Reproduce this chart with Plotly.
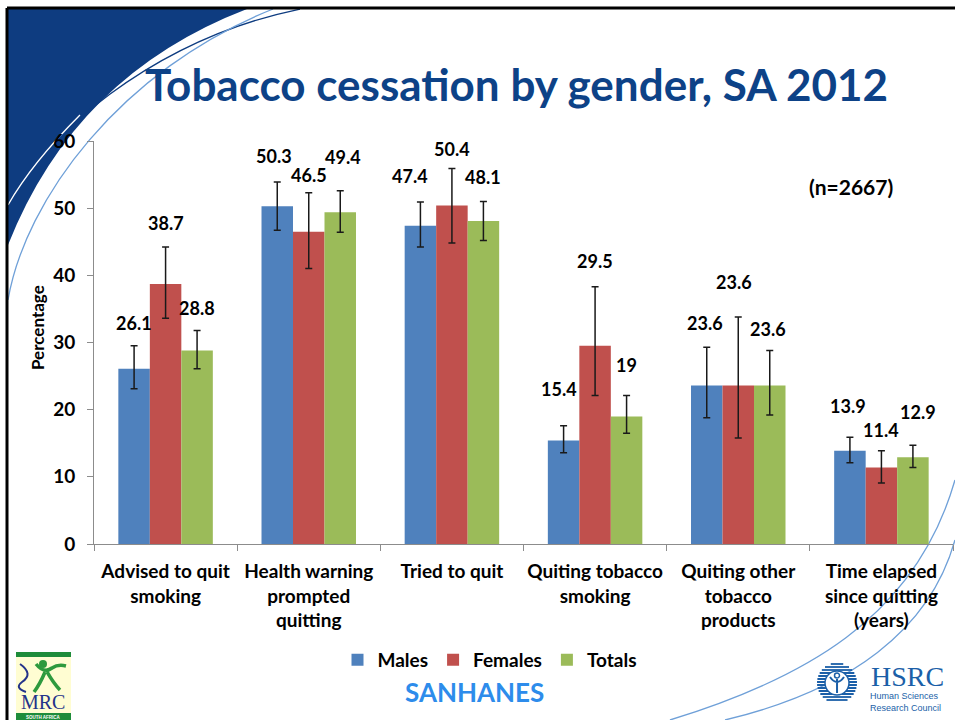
import math
import plotly.graph_objects as go

# categories and values
categories = ["Advised to quit<br>smoking", "Health warning<br>prompted<br>quitting",
              "Tried to quit", "Quiting tobacco<br>smoking",
              "Quiting other<br>tobacco<br>products", "Time elapsed<br>since quitting<br>(years)"]
males = [26.1, 50.3, 47.4, 15.4, 23.6, 13.9]
females = [38.7, 46.5, 50.4, 29.5, 23.6, 11.4]
totals = [28.8, 49.4, 48.1, 19.0, 23.6, 12.9]

# 95% CI limits (estimated from the error bars)
males_lo = [23.1, 46.7, 44.2, 13.6, 18.8, 12.1]
males_hi = [29.5, 53.9, 50.9, 17.6, 29.3, 15.9]
females_lo = [33.6, 41.0, 44.8, 22.1, 15.8, 9.1]
females_hi = [44.2, 52.3, 55.9, 38.3, 33.8, 13.9]
totals_lo = [26.1, 46.4, 45.2, 16.5, 19.2, 11.4]
totals_hi = [31.8, 52.6, 51.0, 22.1, 28.8, 14.7]

# layout helpers: plot area is x 94..953 px, y 141..544 px
L, R, T, B = 94, 953, 141, 544
def px(x):
    return (x - L) / (R - L)
def py(y):
    return (B - y) / (B - T)
def path(pts):
    # pts: list of ("M"/"L"/"C"/"Q", coords...) in pixels
    out = []
    for p in pts:
        s = p[0]
        for i in range(1, len(p), 2):
            s += " %.4f,%.4f" % (px(p[i]), py(p[i + 1]))
        out.append(s)
    return " ".join(out)
def note(text, x, y, size, color="black", family=None, **kw):
    return dict(text=text, xref="paper", yref="paper", x=px(x), y=py(y), showarrow=False,
                xanchor=kw.pop("xanchor", "center"), yanchor="middle",
                font=dict(family=family or FONT, size=size, color=color), **kw)
def pshape(pts, color, width, close=False, fill=None):
    d = dict(type="path", xref="paper", yref="paper", layer="below",
             path=path(pts) + (" Z" if close else ""),
             line=dict(color=color, width=width))
    if fill:
        d["fillcolor"] = fill
    return d

FONT = "Lato"
series = [("Males", males, males_lo, males_hi, "#4F81BD"),
          ("Females", females, females_lo, females_hi, "#C0504D"),
          ("Totals", totals, totals_lo, totals_hi, "#9BBB59")]

fig = go.Figure()
for name, vals, lo, hi, col in series:
    fig.add_trace(go.Bar(
        x=categories, y=vals, name="<b>%s</b>" % name, marker=dict(color=col, line=dict(width=0)),
        error_y=dict(type="data", symmetric=False,
                     array=[h - v for h, v in zip(hi, vals)],
                     arrayminus=[v - l for v, l in zip(vals, lo)],
                     color="#1a1a1a", thickness=1.5, width=3.5)))

# data labels above the error bars
label_lift = [[23, 26, 26, 37, 24, 31], [24, 18, 20, 26, 35, 21], [22, 34, 24, 31, 22, 33]]
label_nudge = [[0, -3, -10, -5, -2, -2], [0, 0, 0, 0, -4, 0], [0, 3, 0, 0, -2, 5]]
annotations = []
for k, (name, vals, lo, hi, col) in enumerate(series):
    for i, c in enumerate(categories):
        annotations.append(dict(
            x=c, y=hi[i], xref="x", yref="y", text="<b>%g</b>" % vals[i], showarrow=False,
            xanchor="center", yanchor="middle",
            xshift=(k - 1) * 31.5 + label_nudge[k][i], yshift=label_lift[k][i],
            font=dict(family=FONT, size=18, color="black")))

annotations += [
    note("<b>Tobacco cessation by gender, SA 2012</b>", 516, 84, 44, "#0D4287"),
    note("<b>(n=2667)</b>", 851, 186, 21),
    note("<b>Percentage</b>", 37, 328, 17, textangle=-90),
    note("<b>SANHANES</b>", 474, 692, 26, "#2D8CEB"),
    note("MRC", 43, 702, 20, "#24338A", "Liberation Serif"),
    note("<b>SOUTH AFRICA</b>", 43, 717.5, 4.5, "white", "Liberation Sans"),
    note("HSRC", 907, 676, 28, "#1B5FA8", "Liberation Serif"),
    note("Human Sciences<br>Research Council", 868, 702, 9, "#1B5FA8", "Liberation Sans",
         xanchor="left", align="left"),
]

shapes = [
    # dark blue swoosh top left
    pshape([("M", 8, 9), ("L", 247, 9), ("Q", 75, 75, 8, 245)], "#0E3C80", 0, True, "#0E3C80"),
    pshape([("M", 8, 205), ("C", 40, 140, 150, 40, 300, 9)], "#0E3C80", 1.3),
    pshape([("M", 8, 205), ("C", 25, 175, 50, 145, 80, 115)], "white", 1.3),
    pshape([("M", 8, 300), ("C", 25, 200, 120, 70, 273, 9)], "#6FA0D8", 1.3),
    # light blue arcs bottom right
    pshape([("M", 670, 720), ("C", 800, 680, 915, 620, 955, 480)], "#6FA0D8", 1.3),
    pshape([("M", 725, 720), ("C", 850, 690, 930, 630, 955, 540)], "#6FA0D8", 1.3),
    # frame
    dict(type="line", xref="paper", yref="paper", x0=px(7), x1=px(960), y0=py(8), y1=py(8),
         line=dict(color="black", width=3)),
    dict(type="line", xref="paper", yref="paper", x0=px(7), x1=px(7), y0=py(8), y1=py(725),
         line=dict(color="black", width=3)),
    # MRC logo
    dict(type="rect", xref="paper", yref="paper", x0=px(16), x1=px(71), y0=py(652), y1=py(720),
         fillcolor="#FFFDD2", line=dict(width=0)),
    dict(type="rect", xref="paper", yref="paper", x0=px(16), x1=px(71), y0=py(652), y1=py(657),
         fillcolor="#1E8C3A", line=dict(width=0)),
    dict(type="rect", xref="paper", yref="paper", x0=px(16), x1=px(71), y0=py(713), y1=py(720),
         fillcolor="#1E8C3A", line=dict(width=0)),
    dict(type="path", xref="paper", yref="paper", line=dict(color="#2E9A3E", width=3.5),
         path=path([("M", 36, 664), ("Q", 44, 674, 52, 668), ("Q", 58, 664, 66, 666),
                    ("M", 45, 672), ("Q", 40, 684, 34, 692), ("M", 47, 672), ("Q", 54, 684, 60, 690)])),
    dict(type="circle", xref="paper", yref="paper", x0=px(39), x1=px(47), y0=py(660), y1=py(668),
         fillcolor="#2E9A3E", line=dict(width=0)),
    dict(type="path", xref="paper", yref="paper", line=dict(color="#24338A", width=2),
         path=path([("M", 20, 664), ("Q", 34, 674, 22, 682), ("Q", 14, 688, 26, 692)])),
]

# HSRC roundel: horizontal stripes inside a ring, with a small figure
cx, cy, rad = 837, 683, 20
for k in range(-19, 20, 3):
    half = math.sqrt(rad * rad - k * k)
    shapes.append(dict(type="line", xref="paper", yref="paper", x0=px(cx - half), x1=px(cx + half),
                       y0=py(cy + k), y1=py(cy + k), line=dict(color="#1B5FA8", width=1.8)))
shapes += [
    dict(type="circle", xref="paper", yref="paper", x0=px(cx - 12), x1=px(cx + 12),
         y0=py(cy - 12), y1=py(cy + 12), fillcolor="white", line=dict(color="#1B5FA8", width=1.5)),
    dict(type="path", xref="paper", yref="paper", line=dict(color="#1B5FA8", width=2),
         path=path([("M", cx, cy - 4), ("L", cx, cy + 10), ("M", cx - 7, cy - 6),
                    ("Q", cx, cy + 4, cx + 7, cy - 6)])),
    dict(type="circle", xref="paper", yref="paper", x0=px(cx - 2.5), x1=px(cx + 2.5),
         y0=py(cy - 10), y1=py(cy - 5), fillcolor="white", line=dict(color="#1B5FA8", width=1.5)),
]

fig.update_layout(
    width=955, height=720, barmode="group", bargap=0.34, bargroupgap=0,
    margin=dict(l=L, r=955 - R, t=T, b=720 - B),
    paper_bgcolor="white", plot_bgcolor="white",
    font=dict(family=FONT, size=17, color="black"),
    showlegend=True,
    legend=dict(orientation="h", x=px(490), y=py(660), xanchor="center", yanchor="middle",
                font=dict(family=FONT, size=19, color="black"), itemwidth=30,
                bgcolor="rgba(0,0,0,0)"),
    annotations=annotations, shapes=shapes,
)
fig.update_xaxes(showline=True, linecolor="#8c8c8c", linewidth=1, ticks="outside",
                 tickson="boundaries", ticklen=6, tickcolor="#8c8c8c", showgrid=False,
                 tickfont=dict(family=FONT, size=19, color="black"), tickangle=0,
                 ticklabelstandoff=10,
                 tickvals=categories, ticktext=["<b>%s</b>" % c for c in categories])
fig.update_yaxes(range=[0, 60], dtick=10, showline=True, linecolor="#8c8c8c", linewidth=1,
                 ticks="outside", ticklen=6, tickcolor="#8c8c8c", showgrid=False, zeroline=False,
                 tickfont=dict(family=FONT, size=19, color="black"), tickprefix="<b>",
                 ticksuffix="</b>", ticklabelstandoff=8)

fig.write_html("out.html", config={"displayModeBar": False},
               post_script="document.body.style.margin='0';")
